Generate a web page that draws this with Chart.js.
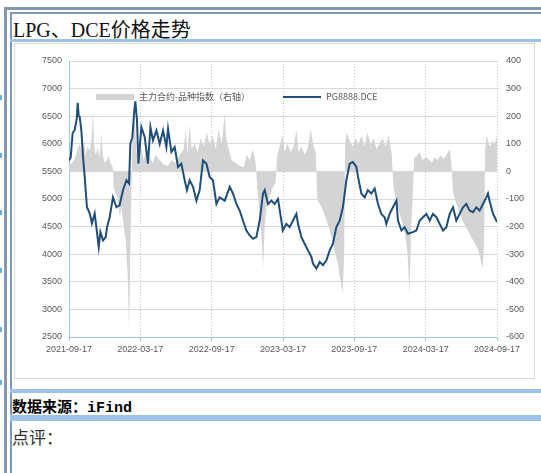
<!DOCTYPE html>
<html lang="zh">
<head>
<meta charset="utf-8">
<title>LPG、DCE价格走势</title>
<script src="https://cdn.jsdelivr.net/npm/chart.js@4.4.1/dist/chart.umd.min.js"></script>
<style>
  html, body { margin: 0; padding: 0; background: #fff; }
  body { width: 541px; height: 473px; position: relative; overflow: hidden; }
  .rule { position: absolute; background: #8497b0; }
  .mark { position: absolute; left: 0; width: 2px; height: 5px; background: #6fa8dc; }
  .band { position: absolute; left: 10px; right: 0; background: #9dc3e6; }
  #title { position: absolute; left: 13px; top: 14px; font: 20px "Liberation Serif", "Noto Sans CJK SC", serif; color: #111; white-space: nowrap; }
  #box { position: absolute; left: 14px; top: 43px; width: 519px; height: 334px; border: 1px solid #d9d9d9; background: #fff; }
  #chart { position: absolute; left: 0; top: 0; }
  .legend { position: absolute; font: 9px "Noto Sans CJK SC", "Liberation Sans", sans-serif; color: #595959; white-space: nowrap; line-height: 10px; }
  .swatch { position: absolute; }
  #source { position: absolute; left: 12px; top: 395px; font: bold 15px "Liberation Mono", "Noto Sans CJK SC", monospace; color: #000; white-space: nowrap; }
  #comment { position: absolute; left: 12px; top: 424px; font: 17px "Noto Sans CJK SC", serif; color: #333; white-space: nowrap; }
</style>
</head>
<body>
<!-- page frame -->
<div class="rule" style="left:4px; top:7px; right:0; height:3px;"></div>
<div class="rule" style="left:10px; top:12px; right:0; height:2px;"></div>
<div class="rule" style="left:4px; top:7px; width:3px; bottom:0;"></div>
<div class="rule" style="left:10px; top:12px; width:2px; bottom:0;"></div>
<div class="mark" style="top:95px;"></div>
<div class="mark" style="top:153px;"></div>
<div class="mark" style="top:210px;"></div>
<div class="mark" style="top:268px;"></div>
<div class="mark" style="top:327px;"></div>
<div class="mark" style="top:380px;"></div>

<div id="title">LPG、DCE价格走势</div>
<div class="band" style="top:39px; height:3px;"></div>

<div id="box">
  <canvas id="chart" width="519" height="334"></canvas>
  <div class="swatch" style="left:81px; top:50px; width:38px; height:6px; background:#d4d4d4;"></div>
  <div class="legend" style="left:124px; top:48px;">主力合约-品种指数（右轴）</div>
  <div class="swatch" style="left:268px; top:52px; width:38px; height:2px; background:#1f4e79;"></div>
  <div class="legend" style="left:311px; top:48px;">PG8888.DCE</div>
</div>

<div class="band" style="top:389px; height:4px;"></div>
<div id="source">数据来源：iFind</div>
<div class="band" style="top:415px; height:6px;"></div>
<div id="comment">点评：</div>

<script>
// x 轴刻度（每 6 个月）
const tickLabels = ["2021-09-17", "2022-03-17", "2022-09-17", "2023-03-17", "2023-09-17", "2024-03-17", "2024-09-17"];

// PG8888.DCE（左轴），横坐标为距 2021-09-17 的月数
const priceMonths = [
  0, 0.14, 0.31, 0.48, 0.65, 0.73, 0.82, 0.9, 1.04, 1.18,
  1.32, 1.51, 1.74, 1.93, 2.16, 2.3, 2.5, 2.64, 2.86, 3.09,
  3.2, 3.42, 3.7, 3.99, 4.26, 4.54, 4.83, 5.05, 5.16, 5.33,
  5.47, 5.58, 5.72, 5.84, 5.95, 6.09, 6.37, 6.64, 6.85, 7.06,
  7.35, 7.63, 7.91, 8.19, 8.33, 8.61, 8.89, 9.17, 9.45, 9.73,
  9.92, 10.15, 10.43, 10.72, 10.99, 11.27, 11.56, 11.83, 12.11, 12.4,
  12.67, 13.1, 13.52, 13.79, 14.08, 14.36, 14.63, 14.92, 15.2, 15.48,
  15.76, 16.04, 16.32, 16.46, 16.74, 17.02, 17.3, 17.58, 17.86, 17.99,
  18.28, 18.56, 18.84, 19.13, 19.26, 19.55, 19.82, 20.1, 20.39, 20.52,
  20.81, 21.09, 21.36, 21.65, 21.93, 22.2, 22.49, 22.77, 23.04, 23.33,
  23.61, 23.88, 24.17, 24.31, 24.59, 24.87, 25.14, 25.43, 25.71, 25.99,
  26.27, 26.55, 26.69, 26.97, 27.25, 27.54, 27.67, 27.96, 28.23, 28.51,
  28.93, 29.22, 29.5, 29.77, 30.06, 30.34, 30.61, 30.9, 31.18, 31.46,
  31.74, 32.02, 32.3, 32.58, 32.86, 33.14, 33.42, 33.7, 33.98, 34.26,
  34.54, 34.82, 35.1, 35.24, 35.37, 35.67, 35.81, 36
];
const priceValues = [
  5700, 5750, 6200, 6250, 6450, 6740, 6500, 6490, 6240, 5760,
  5400, 4850, 4740, 4560, 4740, 4490, 4130, 4400, 4250, 4310,
  4490, 4670, 5030, 4850, 4890, 5160, 5340, 5280, 6000, 6120,
  6540, 6770, 6420, 5640, 5940, 6300, 6120, 5640, 6300, 6060,
  6240, 6000, 6240, 5940, 6270, 5850, 5940, 5580, 5640, 5340,
  5160, 5340, 5220, 4970, 5160, 5700, 5640, 5400, 5340, 4910,
  5030, 4970, 5220, 5100, 4910, 4790, 4610, 4430, 4340, 4280,
  4310, 4610, 5100, 5160, 4910, 4970, 4910, 5000, 4610, 4430,
  4550, 4490, 4610, 4730, 4550, 4310, 4190, 4070, 3950, 3830,
  3740, 3860, 3800, 3890, 4070, 4190, 4490, 4610, 4850, 5340,
  5640, 5670, 5580, 5400, 5100, 5030, 5160, 5100, 5190, 4910,
  4730, 4670, 4550, 4730, 4850, 4970, 4610, 4430, 4490, 4370,
  4400, 4430, 4610, 4670, 4730, 4610, 4730, 4670, 4550, 4430,
  4490, 4730, 4850, 4610, 4730, 4850, 4910, 4790, 4760, 4850,
  4790, 4910, 5030, 5100, 4970, 4730, 4670, 4580
];

// 主力合约-品种指数（右轴）
const spreadMonths = [
  0, 0.23, 0.48, 0.73, 0.9, 1.07, 1.24, 1.4, 1.57, 1.74,
  1.91, 2.02, 2.12, 2.25, 2.41, 2.58, 2.72, 2.83, 3.0, 3.17,
  3.34, 3.5, 3.68, 3.76, 3.93, 4.1, 4.26, 4.43, 4.6, 4.77,
  4.94, 5.06, 5.15, 5.23, 5.32, 5.44, 5.57, 5.69, 5.95, 6.11,
  6.28, 6.54, 6.79, 7.04, 7.29, 7.63, 7.96, 8.3, 8.64, 8.97,
  9.31, 9.65, 9.81, 9.98, 10.15, 10.32, 10.57, 10.82, 11.08, 11.33,
  11.58, 11.83, 12.09, 12.34, 12.59, 12.84, 13.1, 13.22, 13.43, 13.68,
  14.02, 14.36, 14.69, 14.94, 15.2, 15.45, 15.7, 15.87, 16.04, 16.21,
  16.33, 16.46, 16.63, 16.88, 17.13, 17.38, 17.51, 17.72, 17.97, 18.14,
  18.39, 18.64, 18.89, 19.13, 19.3, 19.55, 19.81, 20.06, 20.33, 20.58,
  20.75, 20.88, 21.09, 21.34, 21.59, 21.84, 22.09, 22.35, 22.6, 22.85,
  23.02, 23.15, 23.23, 23.36, 23.61, 23.86, 24.11, 24.36, 24.61, 24.86,
  25.11, 25.36, 25.62, 25.87, 26.12, 26.37, 26.62, 26.88, 27.13, 27.3,
  27.55, 27.8, 28.05, 28.31, 28.48, 28.65, 28.78, 28.9, 29.03, 29.24,
  29.49, 29.74, 30.0, 30.25, 30.5, 30.76, 31.01, 31.26, 31.51, 31.76,
  32.02, 32.18, 32.31, 32.61, 32.86, 33.11, 33.36, 33.62, 33.87, 34.12,
  34.38, 34.63, 34.8, 34.92, 35.0, 35.13, 35.38, 35.64, 35.81, 36
];
const spreadValues = [
  20, 30, 45, 80, 100, 70, 110, 60, 90, 75,
  120, 225, 90, 60, 85, 50, 140, 60, 30, 40,
  55, 30, 15, -60, -80, -100, -160, -130, -200, -250,
  -380, -580, -300, -100, 80, 260, 150, 60, 120, 80,
  40, 90, 50, 30, 60, 40, 25, 20, 40, 30,
  60, 80, 150, 60, 170, 80, 100, 70, 120, 90,
  140, 100, 130, 80, 150, 100, 210, 120, 80, 40,
  30, 20, 15, 60, 40, 80, 30, -80, -150, -250,
  -350, -200, -120, -90, -60, -40, 60, 90, 130, 70,
  100, 70, 90, 150, 70, 90, 60, 80, 150, 90,
  70, -100, -120, -140, -170, -200, -240, -290, -330, -400,
  -440, -300, 100, 140, 110, 90, 120, 100, 130, 90,
  140, 100, 120, 80, 100, 120, 90, 130, 70, -60,
  -110, -150, -190, -240, -300, -450, -200, -100, 50, 55,
  70, 40, 50, 45, 30, 50, 40, 60, 45, 60,
  80, 20, -80, -120, -150, -180, -200, -220, -240, -260,
  -280, -320, -350, -250, 80, 130, 90, 110, 100, 130
];

const tickFont = { family: "'Liberation Sans', Arial, sans-serif", size: 9 };
const tickColor = "#595959";

const pricePoints = priceMonths.map((m, i) => ({ x: m, y: priceValues[i] }));
const spreadPoints = spreadMonths.map((m, i) => ({ x: m, y: spreadValues[i] }));

new Chart(document.getElementById("chart"), {
  type: "line",
  data: {
    datasets: [
      {
        label: "PG8888.DCE",
        data: pricePoints,
        yAxisID: "y",
        borderColor: "#1f4e79",
        borderWidth: 2,
        pointRadius: 0,
        tension: 0,
        fill: false,
        order: 1
      },
      {
        label: "主力合约-品种指数（右轴）",
        data: spreadPoints,
        yAxisID: "y1",
        borderWidth: 0,
        borderColor: "rgba(0,0,0,0)",
        backgroundColor: "#d4d4d4",
        pointRadius: 0,
        tension: 0,
        fill: { value: 0 },
        order: 2
      }
    ]
  },
  options: {
    responsive: false,
    animation: false,
    devicePixelRatio: 1,
    layout: { padding: { top: 17, left: 0, right: 0, bottom: 0 } },
    plugins: {
      legend: { display: false },
      tooltip: { enabled: false }
    },
    scales: {
      x: {
        type: "linear",
        min: 0,
        max: 36,
        ticks: {
          stepSize: 6,
          color: tickColor,
          font: tickFont,
          padding: 3,
          maxRotation: 0,
          callback: (v) => tickLabels[Math.round(v / 6)]
        },
        grid: { color: "#c8c8c8", tickColor: "#9dc3e6", tickLength: 4 },
        border: { color: "#9dc3e6", dash: [1, 2] },
        afterFit: (s) => { s.height = 41; }
      },
      y: {
        position: "left",
        min: 2500,
        max: 7500,
        ticks: { stepSize: 500, color: tickColor, font: tickFont, padding: 7, callback: (v) => String(v) },
        grid: { color: "#d9d9d9", drawTicks: false },
        border: { color: "#9dc3e6" },
        afterFit: (s) => { s.width = 54; }
      },
      y1: {
        position: "right",
        min: -600,
        max: 400,
        ticks: { stepSize: 100, color: tickColor, font: tickFont, padding: 9, callback: (v) => String(v) },
        grid: { drawOnChartArea: false, drawTicks: false },
        border: { display: false },
        afterFit: (s) => { s.width = 37; }
      }
    }
  }
});
</script>
</body>
</html>
